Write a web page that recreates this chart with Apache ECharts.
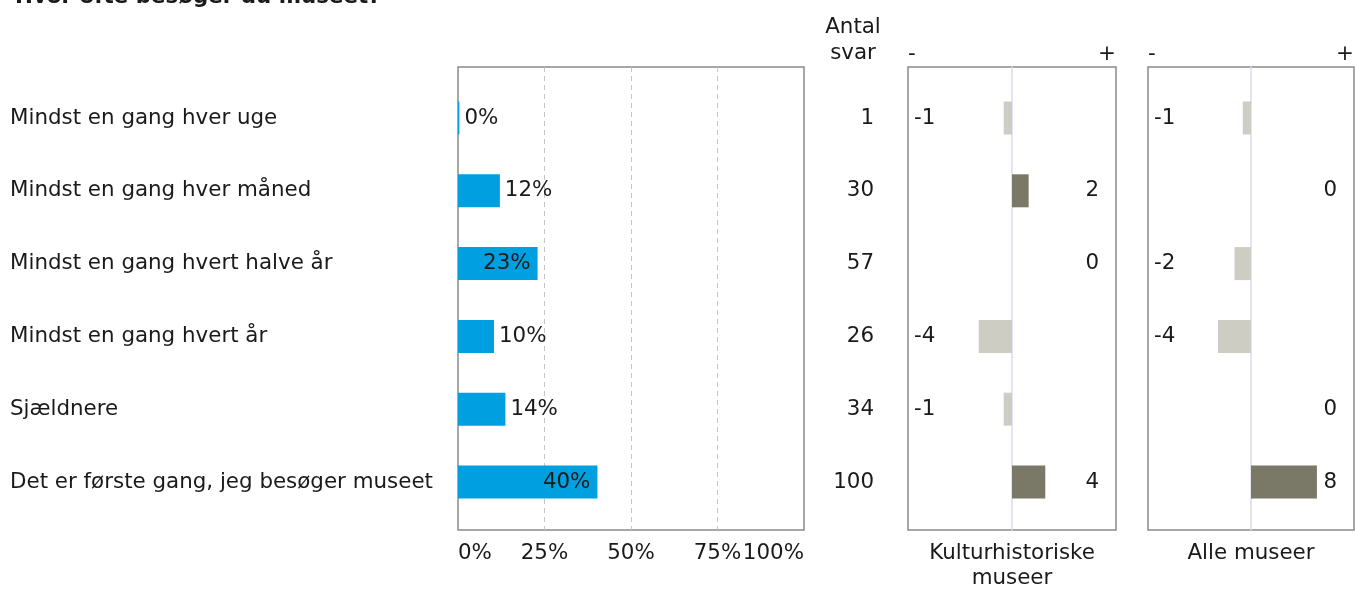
<!DOCTYPE html>
<html><head><meta charset="utf-8">
<script src="https://cdn.jsdelivr.net/npm/echarts@6/dist/echarts.min.js"></script>
<style>html,body{margin:0;padding:0;background:#fff}#c{width:1355px;height:590px}</style>
</head><body><div id="c"></div><script>
const chartTitle = 'Hvor ofte besøger du museet?';
const categories = ['Mindst en gang hver uge','Mindst en gang hver måned','Mindst en gang hvert halve år','Mindst en gang hvert år','Sjældnere','Det er første gang, jeg besøger museet'];
const shares = [0.4, 12.1, 23.0, 10.4, 13.7, 40.3];
const counts = [1, 30, 57, 26, 34, 100];
const kultur = [-1, 2, 0, -4, -1, 4];
const alle = [-1, 0, -2, -4, 0, 8];
const countHeader = 'Antal\nsvar';
const panelNames = ['Kulturhistoriske\nmuseer', 'Alle museer'];

const FONT = 'DejaVu Sans';
const FS = 21.4;
const TXT = '#1a1a1a';
const BORDER = '#8a8a8a';
const frameTop = 67, frameH = 463, dataTop = 81.6, dataH = 436.8;

function frameGrid(left, width){ return {left, width, top: frameTop, height: frameH, outerBoundsMode: 'none', containLabel: false, show: true, borderColor: BORDER, borderWidth: 1.5, backgroundColor: 'transparent'}; }
function dataGrid(left, width){ return {left, width, top: dataTop, height: dataH, outerBoundsMode: 'none', containLabel: false}; }
const hiddenX = (gi, min, max) => ({gridIndex: gi, type: 'value', min, max, show: false});
const signColor = v => v < 0 ? '#cdcdc3' : '#7a7866';
const lblPad = [4, 0, 0, 0];

const option = {
  animation: false,
  textStyle: {fontFamily: FONT},
  title: [
    {text: chartTitle, left: 10, top: -18, textStyle: {fontFamily: FONT, fontSize: FS, fontWeight: 'bold', color: TXT}},
    {text: countHeader, left: 848, textAlign: 'center', top: 9, textStyle: {fontFamily: FONT, fontSize: FS, fontWeight: 'normal', color: TXT, lineHeight: 26, align: 'center'}}
  ],
  grid: [frameGrid(458, 346), dataGrid(458, 346), frameGrid(908, 208), dataGrid(908, 208), frameGrid(1148, 206), dataGrid(1148, 206)],
  xAxis: [
    {gridIndex: 0, type: 'value', min: 0, max: 100, interval: 25, position: 'bottom',
      axisLine: {show: false}, axisTick: {show: false},
      splitLine: {show: true, showMinLine: false, showMaxLine: false, lineStyle: {type: [5, 4], color: '#c4c4c4', width: 1}},
      axisLabel: {formatter: '{value}%', alignMinLabel: 'left', alignMaxLabel: 'right', margin: 13, fontSize: FS, fontFamily: FONT, color: TXT}},
    hiddenX(1, 0, 100),
    {gridIndex: 2, type: 'value', min: -12.5, max: 12.5, interval: 12.5, position: 'top',
      axisLine: {show: false}, axisTick: {show: false}, splitLine: {show: false},
      axisLabel: {formatter: v => v < 0 ? '-' : (v > 0 ? '+' : ''), alignMinLabel: 'left', alignMaxLabel: 'right', margin: 2, fontSize: FS, fontFamily: FONT, color: TXT}},
    {gridIndex: 2, type: 'value', min: -12.5, max: 12.5, position: 'bottom',
      axisLine: {show: false}, axisTick: {show: false}, splitLine: {show: false}, axisLabel: {show: false},
      name: panelNames[0], nameLocation: 'middle', nameGap: 11,
      nameTextStyle: {fontSize: FS, fontFamily: FONT, color: TXT, lineHeight: 25, verticalAlign: 'top'}},
    hiddenX(3, -12.5, 12.5),
    {gridIndex: 4, type: 'value', min: -12.5, max: 12.5, interval: 12.5, position: 'top',
      axisLine: {show: false}, axisTick: {show: false}, splitLine: {show: false},
      axisLabel: {formatter: v => v < 0 ? '-' : (v > 0 ? '+' : ''), alignMinLabel: 'left', alignMaxLabel: 'right', margin: 2, fontSize: FS, fontFamily: FONT, color: TXT}},
    {gridIndex: 4, type: 'value', min: -12.5, max: 12.5, position: 'bottom',
      axisLine: {show: false}, axisTick: {show: false}, splitLine: {show: false}, axisLabel: {show: false},
      name: panelNames[1], nameLocation: 'middle', nameGap: 11,
      nameTextStyle: {fontSize: FS, fontFamily: FONT, color: TXT, lineHeight: 25, verticalAlign: 'top'}},
    hiddenX(5, -12.5, 12.5)
  ],
  yAxis: [
    {gridIndex: 0, type: 'value', min: 0, max: 1, show: false},
    {gridIndex: 1, type: 'category', inverse: true, data: categories, position: 'left',
      axisLine: {show: false}, axisTick: {show: false},
      axisLabel: {align: 'left', margin: 448, padding: lblPad, fontSize: FS, fontFamily: FONT, color: TXT}},
    {gridIndex: 1, type: 'category', inverse: true, data: categories, position: 'right',
      axisLine: {show: false}, axisTick: {show: false},
      axisLabel: {formatter: (v, i) => String(counts[i]), align: 'right', margin: 70, padding: lblPad, fontSize: FS, fontFamily: FONT, color: TXT}},
    {gridIndex: 2, type: 'value', min: 0, max: 1, axisLine: {show: true, onZero: true, onZeroAxisIndex: 3, lineStyle: {color: '#dcd8f0', width: 1.5}},
      axisTick: {show: false}, axisLabel: {show: false}, splitLine: {show: false}},
    {gridIndex: 3, type: 'category', inverse: true, data: categories, position: 'left',
      axisLine: {show: false}, axisTick: {show: false},
      axisLabel: {inside: true, align: 'left', margin: 6, padding: lblPad, formatter: (v, i) => kultur[i] < 0 ? String(kultur[i]) : '', fontSize: FS, fontFamily: FONT, color: TXT}},
    {gridIndex: 3, type: 'category', inverse: true, data: categories, position: 'right',
      axisLine: {show: false}, axisTick: {show: false},
      axisLabel: {inside: true, align: 'right', margin: 17, padding: lblPad, formatter: (v, i) => kultur[i] >= 0 ? String(kultur[i]) : '', fontSize: FS, fontFamily: FONT, color: TXT}},
    {gridIndex: 4, type: 'value', min: 0, max: 1, axisLine: {show: true, onZero: true, onZeroAxisIndex: 6, lineStyle: {color: '#dcd8f0', width: 1.5}},
      axisTick: {show: false}, axisLabel: {show: false}, splitLine: {show: false}},
    {gridIndex: 5, type: 'category', inverse: true, data: categories, position: 'left',
      axisLine: {show: false}, axisTick: {show: false},
      axisLabel: {inside: true, align: 'left', margin: 6, padding: lblPad, formatter: (v, i) => alle[i] < 0 ? String(alle[i]) : '', fontSize: FS, fontFamily: FONT, color: TXT}},
    {gridIndex: 5, type: 'category', inverse: true, data: categories, position: 'right',
      axisLine: {show: false}, axisTick: {show: false},
      axisLabel: {inside: true, align: 'right', margin: 17, padding: lblPad, formatter: (v, i) => alle[i] >= 0 ? String(alle[i]) : '', fontSize: FS, fontFamily: FONT, color: TXT}}
  ],
  series: [
    {type: 'bar', xAxisIndex: 1, yAxisIndex: 1, barWidth: 33,
      data: shares.map(v => ({value: v, label: {position: v >= 20 ? 'insideRight' : 'right', distance: v >= 20 ? 7 : 5}})),
      itemStyle: {color: '#009fe0'},
      label: {show: true, formatter: p => Math.round(p.value) + '%', padding: lblPad, fontSize: FS, fontFamily: FONT, color: TXT}},
    {type: 'bar', xAxisIndex: 4, yAxisIndex: 4, barWidth: 33,
      data: kultur.map(v => ({value: v, itemStyle: {color: signColor(v)}}))},
    {type: 'bar', xAxisIndex: 7, yAxisIndex: 7, barWidth: 33,
      data: alle.map(v => ({value: v, itemStyle: {color: signColor(v)}}))}
  ]
};
const chart = echarts.init(document.getElementById('c'), null, {renderer: 'canvas'});
chart.setOption(option);
</script></body></html>
